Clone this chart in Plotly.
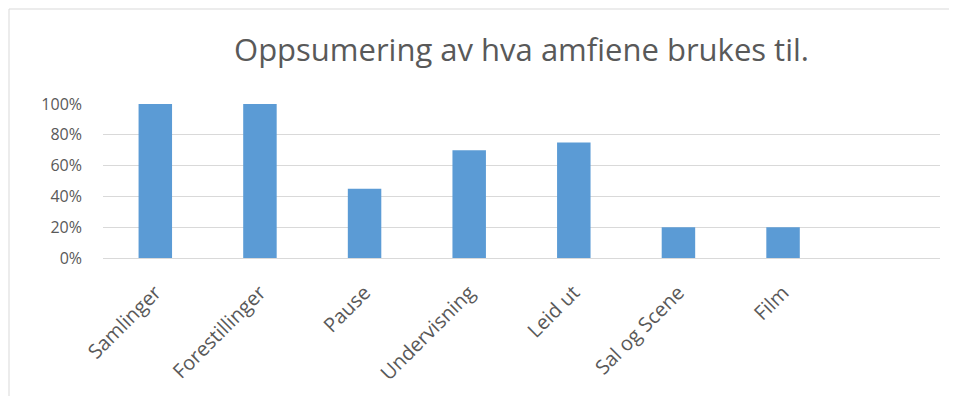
import plotly.graph_objects as go

# ---------------------------------------------------------------------------
# DATA
# ---------------------------------------------------------------------------
CATEGORIES = ["Samlinger", "Forestillinger", "Pause", "Undervisning",
              "Leid ut", "Sal og Scene", "Film"]
VALUES = [1.00, 1.00, 0.45, 0.70, 0.75, 0.20, 0.20]
Y_TICKS = [0, 0.2, 0.4, 0.6, 0.8, 1.0]
Y_TICK_LABELS = ["0%", "20%", "40%", "60%", "80%", "100%"]
TITLE = "Oppsumering av hva amfiene brukes til."

# the page body adds an 8px offset, so the figure is drawn 8px smaller
OFF = 8
W, H = 957 - OFF, 396 - OFF
M_L, M_R, M_T, M_B = 103 - OFF, 17, 104 - OFF, 138
FONT = "Open Sans"
TEXT_COLOR = "#595959"
GRID_COLOR = "#d9d9d9"
BAR_COLOR = "#5b9bd5"

fig = go.Figure(
    go.Bar(
        x=CATEGORIES,
        y=VALUES,
        marker=dict(color=BAR_COLOR, line=dict(width=0)),
        width=0.32,
        hoverinfo="x+y",
    )
)

plot_w = W - M_L - M_R
plot_h = H - M_T - M_B
plot_bottom = H - M_B

# outer chart border (top & left edges visible in the reference)
fig.add_shape(
    type="rect", xref="paper", yref="paper",
    x0=(1 - M_L) / plot_w, x1=(W + 10 - M_L) / plot_w,
    y0=-(H + 10 - plot_bottom) / plot_h, y1=(plot_bottom - 1) / plot_h,
    line=dict(color=GRID_COLOR, width=1), fillcolor="rgba(0,0,0,0)",
    layer="below",
)

fig.update_layout(
    width=W,
    height=H,
    margin=dict(l=M_L, r=M_R, t=M_T, b=M_B),
    paper_bgcolor="white",
    plot_bgcolor="white",
    showlegend=False,
    title=dict(
        text=TITLE,
        x=(M_L + plot_w / 2) / W,
        xanchor="center",
        y=1 - (50 - OFF) / H,
        yanchor="middle",
        font=dict(family=FONT, size=31, color=TEXT_COLOR),
    ),
    xaxis=dict(
        type="category",
        range=[-0.5, len(CATEGORIES) + 0.5],
        tickangle=-45,
        tickfont=dict(family=FONT, size=20, color=TEXT_COLOR),
        showgrid=False,
        showline=True,
        linecolor=GRID_COLOR,
        linewidth=1,
        ticks="",
        ticklabelstandoff=14,
        automargin=False,
    ),
    yaxis=dict(
        range=[0, 1.0],
        tickvals=Y_TICKS,
        ticktext=Y_TICK_LABELS,
        tickfont=dict(family=FONT, size=16, color=TEXT_COLOR),
        showgrid=True,
        gridcolor=GRID_COLOR,
        gridwidth=1,
        zeroline=False,
        showline=False,
        ticks="",
        ticklabelstandoff=20,
        automargin=False,
    ),
)

fig.write_html("out.html")
